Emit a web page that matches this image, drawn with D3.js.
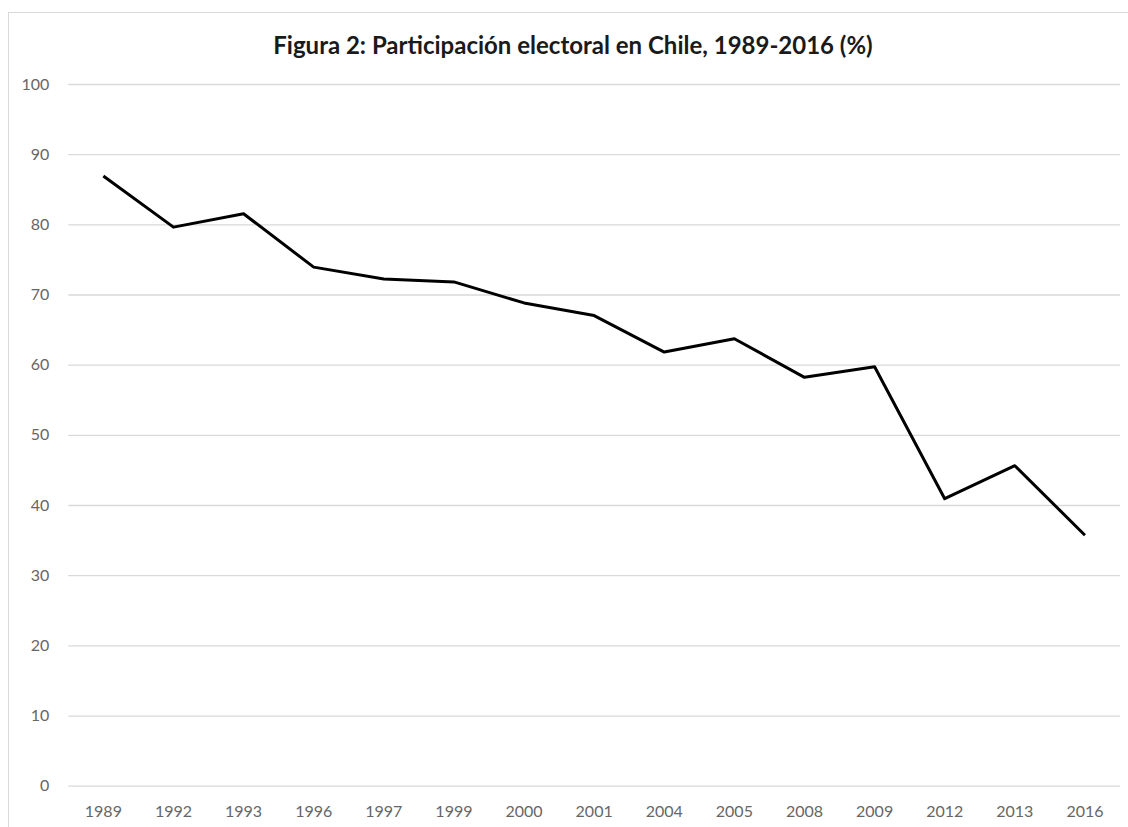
<!DOCTYPE html>
<html>
<head>
<meta charset="utf-8">
<script src="https://cdn.jsdelivr.net/npm/d3@7"></script>
<style>
  body { margin: 0; background: #fff; }
  svg { display: block; }
</style>
</head>
<body>
<div id="chart"></div>
<script>
const years = ['1989', '1992', '1993', '1996', '1997', '1999', '2000', '2001', '2004', '2005', '2008', '2009', '2012', '2013', '2016']
const turnout = [86.9, 79.6, 81.5, 73.9, 72.2, 71.8, 68.8, 67.0, 61.8, 63.7, 58.2, 59.7, 40.9, 45.6, 35.7]
const yTicks = [0, 10, 20, 30, 40, 50, 60, 70, 80, 90, 100]
const title = 'Figura 2: Participación electoral en Chile, 1989-2016 (%)'

const createGraph = () => {
    const width = 1128
    const height = 827
    const left = 68.3
    const right = 1120
    const top = 84
    const bottom = 785.7
    const font = 'Lato, "Open Sans", sans-serif'

    const xScale = d3.scaleBand().domain(years).range([left, right])
    const yScale = d3.scaleLinear().domain([0, 100]).range([bottom, top])

    const svg = d3.select('#chart')
        .append('svg')
        .attr('width', width)
        .attr('height', height)

    // chart frame, runs off the right and bottom edges
    svg.append('rect')
        .attr('x', 8.5)
        .attr('y', 12.5)
        .attr('width', 1200)
        .attr('height', 900)
        .attr('fill', 'none')
        .attr('stroke', '#d9d9d9')

    svg.append('text')
        .attr('x', 573)
        .attr('y', 54)
        .attr('text-anchor', 'middle')
        .style('font-family', font)
        .style('font-weight', 'bold')
        .style('font-size', '24px')
        .style('fill', '#1a1a1a')
        .text(title)

    const yAxis = d3.axisLeft(yScale).tickValues(yTicks).tickSize(-(right - left)).tickPadding(19)
    svg.append('g')
        .attr('transform', `translate(${left}, 0)`)
        .call(yAxis)
        .call((g) => g.select('.domain').remove())
        .call((g) => g.selectAll('.tick line').attr('stroke', '#d9d9d9').attr('stroke-width', 1.3))
        .call((g) => g.selectAll('.tick text')
            .style('font-family', font)
            .style('font-size', '16px')
            .attr('fill', '#666'))

    const xAxis = d3.axisBottom(xScale).tickSize(0).tickPadding(20)
    svg.append('g')
        .attr('transform', `translate(0, ${bottom})`)
        .call(xAxis)
        .call((g) => g.select('.domain').remove())
        .call((g) => g.selectAll('.tick text')
            .style('font-family', font)
            .style('font-size', '16px')
            .attr('fill', '#666'))

    const line = d3.line()
        .x((d, i) => xScale(years[i]) + xScale.bandwidth() / 2)
        .y((d) => yScale(d))

    svg.append('path')
        .datum(turnout)
        .attr('d', line)
        .attr('fill', 'none')
        .attr('stroke', '#000')
        .attr('stroke-width', 3)
        .attr('stroke-linejoin', 'round')
}

createGraph()
</script>
</body>
</html>
